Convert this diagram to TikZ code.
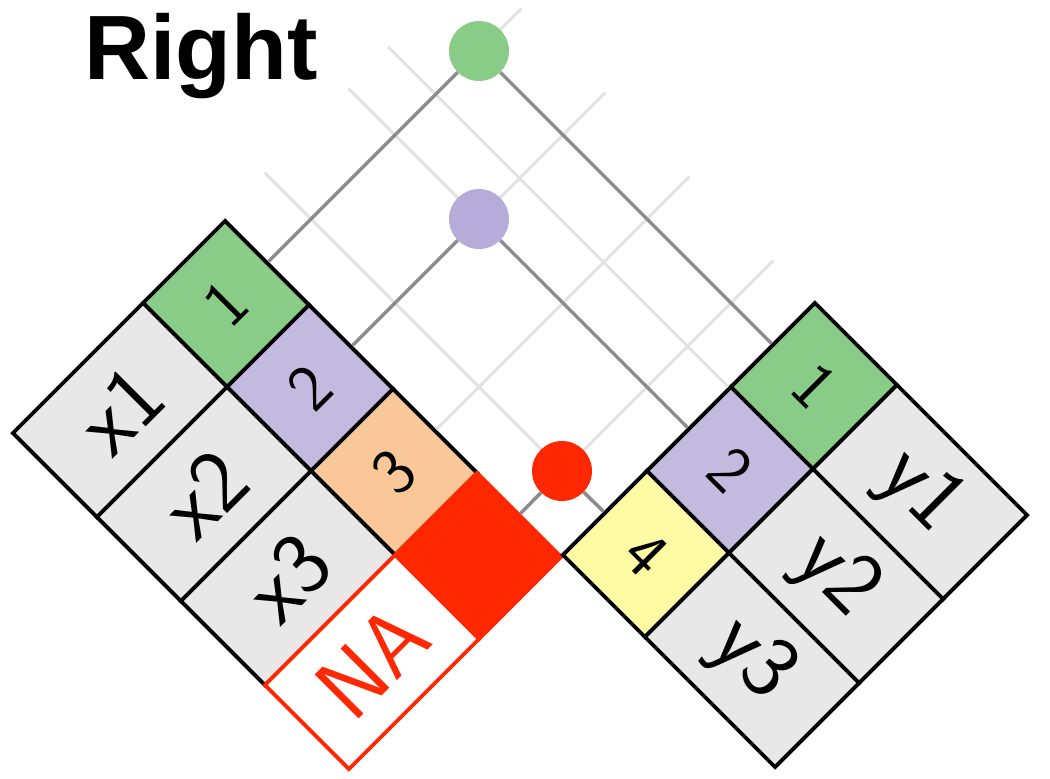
\documentclass[tikz,border=0pt]{standalone}
\usepackage{fontspec}
\newfontfamily\titlefont{Liberation Sans}
\usepackage{tikz}
\definecolor{keygreen}{RGB}{136,204,136}
\definecolor{keypurple}{RGB}{196,186,224}
\definecolor{dotpurple}{RGB}{182,172,218}
\definecolor{keyorange}{RGB}{250,200,152}
\definecolor{keyyellow}{RGB}{255,250,164}
\definecolor{cellgray}{RGB}{232,232,232}
\definecolor{nared}{RGB}{255,40,0}
\definecolor{linkgray}{RGB}{140,140,140}
\definecolor{gridgray}{RGB}{226,226,226}
\tikzset{
  cell/.style={rectangle, draw=black, line width=2.2pt, inner sep=0pt,
    minimum height=23.76mm},
  lkey/.style={cell, rotate=45, minimum width=23.2mm,
    font=\sffamily\fontsize{38}{38}\selectfont},
  lval/.style={cell, rotate=45, minimum width=36.8mm, fill=cellgray,
    font=\sffamily\fontsize{51}{51}\selectfont},
  rkey/.style={cell, rotate=-45, minimum width=23.2mm,
    font=\sffamily\fontsize{38}{38}\selectfont},
  rval/.style={cell, rotate=-45, minimum width=36.8mm, fill=cellgray,
    font=\sffamily\fontsize{51}{51}\selectfont},
  missing/.style={draw=nared, text=nared},
  dot/.style={circle, minimum size=12mm, inner sep=0pt},
  link/.style={line width=2pt, color=linkgray},
  gridline/.style={line width=1.7pt, color=gridgray}
}

\begin{document}
\begin{tikzpicture}[x=0.2mm, y=-0.2mm]
  \useasboundingbox (0,0) rectangle (1050,779);

  % Title
  \node[font=\titlefont\bfseries\fontsize{52}{52}\selectfont, anchor=base west,
    inner sep=0pt] (title) at (84,80) {Right};

  % Left table: keys
  \node[lkey, fill=keygreen] (k1) at (226,304) {1};
  \node[lkey, fill=keypurple] (k2) at (310,388) {2};
  \node[lkey, fill=keyorange] (k3) at (394,472) {3};
  % Left table: values
  \node[lval] (x1) at (120,410) {x1};
  \node[lval] (x2) at (204,494) {x2};
  \node[lval] (x3) at (288,578) {x3};
  % Missing row
  \node[lkey, missing, fill=nared] (k4) at (478,556) {};
  \node[lval, missing, fill=white] (na) at (372,662) {NA};

  % Right table: keys
  \node[rkey, fill=keygreen] (r1) at (814,386) {1};
  \node[rkey, fill=keypurple] (r2) at (730,470) {2};
  \node[rkey, fill=keyyellow] (r3) at (646,554) {4};
  % Right table: values
  \node[rval] (y1) at (920,492) {y1};
  \node[rval] (y2) at (836,576) {y2};
  \node[rval] (y3) at (752,660) {y3};

  % Grid
  \foreach \k in {k1,k2,k3,k4}
    \draw[gridline] (\k.east) -- ++(253,-253);
  \foreach \r in {r2,r3}
    \draw[gridline] (\r.west) -- ++(-339,-339);
  \draw[gridline] (r1.south west) -- ++(-340,-340);

  % Matches
  \node[dot] (mg) at (479,51) {};
  \node[dot] (mp) at (479,219) {};
  \node[dot] (mr) at (562,471) {};
  \draw[link] (mg) -- (k1.east);
  \draw[link] (mg) -- (r1.west);
  \draw[link] (mp) -- (k2.east);
  \draw[link] (mp) -- (r2.west);
  \draw[link] (mr) -- (k4.east);
  \draw[link] (mr) -- (r3.west);
  \fill[keygreen] (mg) circle (6mm);
  \fill[dotpurple] (mp) circle (6mm);
  \fill[nared] (mr) circle (6mm);
\end{tikzpicture}
\end{document}
